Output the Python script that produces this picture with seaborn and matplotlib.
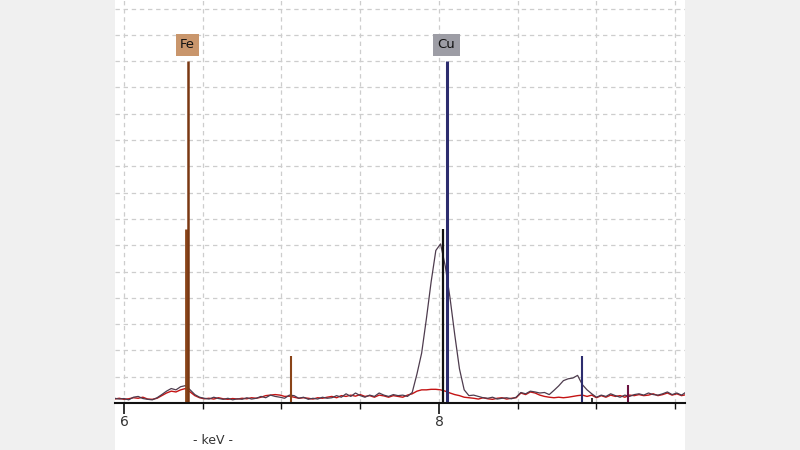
import numpy as np
import pandas as pd
import matplotlib
matplotlib.use("Agg")
import matplotlib.pyplot as plt
import seaborn as sns

# ---- data ----
energy_kev = [round(5.94 + 0.03 * i, 2) for i in range(122)]

spectrum_a = [  # dark trace
    0.18, 0.15, 0.17, 0.12, 0.22, 0.25, 0.17, 0.14, 0.12, 0.20,
    0.32, 0.45, 0.55, 0.50, 0.62, 0.66, 0.50, 0.32, 0.22, 0.18,
    0.15, 0.22, 0.17, 0.14, 0.18, 0.12, 0.16, 0.14, 0.20, 0.15,
    0.18, 0.25, 0.20, 0.30, 0.25, 0.22, 0.18, 0.30, 0.28, 0.18,
    0.22, 0.14, 0.18, 0.15, 0.22, 0.18, 0.20, 0.28, 0.22, 0.35,
    0.25, 0.38, 0.28, 0.22, 0.30, 0.25, 0.38, 0.30, 0.25, 0.32,
    0.28, 0.30, 0.25, 0.40, 1.10, 1.90, 3.20, 4.60, 5.80, 6.05,
    5.20, 4.00, 2.60, 1.30, 0.50, 0.28, 0.30, 0.25, 0.20, 0.18,
    0.22, 0.15, 0.18, 0.20, 0.16, 0.22, 0.40, 0.35, 0.45, 0.42,
    0.38, 0.40, 0.32, 0.48, 0.65, 0.85, 0.92, 0.95, 1.05, 0.70,
    0.50, 0.35, 0.22, 0.30, 0.25, 0.35, 0.28, 0.22, 0.30, 0.25,
    0.32, 0.35, 0.30, 0.38, 0.32, 0.30, 0.35, 0.42, 0.32, 0.38,
    0.30, 0.42,
]

spectrum_b = [  # red trace
    0.15, 0.18, 0.14, 0.16, 0.20, 0.18, 0.22, 0.15, 0.14, 0.18,
    0.28, 0.38, 0.45, 0.42, 0.50, 0.55, 0.42, 0.28, 0.20, 0.16,
    0.18, 0.15, 0.20, 0.16, 0.14, 0.17, 0.15, 0.18, 0.16, 0.20,
    0.18, 0.22, 0.28, 0.30, 0.32, 0.30, 0.25, 0.26, 0.22, 0.18,
    0.20, 0.18, 0.15, 0.20, 0.18, 0.22, 0.25, 0.20, 0.28, 0.25,
    0.30, 0.26, 0.32, 0.25, 0.28, 0.22, 0.30, 0.27, 0.22, 0.28,
    0.25, 0.22, 0.30, 0.35, 0.45, 0.50, 0.50, 0.52, 0.52, 0.50,
    0.45, 0.38, 0.32, 0.28, 0.22, 0.20, 0.18, 0.15, 0.20, 0.16,
    0.14, 0.18, 0.20, 0.15, 0.18, 0.20, 0.38, 0.32, 0.42, 0.38,
    0.30, 0.25, 0.22, 0.20, 0.22, 0.20, 0.22, 0.25, 0.28, 0.30,
    0.25, 0.30, 0.20, 0.28, 0.22, 0.30, 0.25, 0.28, 0.22, 0.30,
    0.28, 0.32, 0.28, 0.30, 0.35, 0.28, 0.32, 0.38, 0.30, 0.35,
    0.28, 0.32,
]

line_energy = [6.391, 6.404, 7.058, 8.028, 8.048, 8.905, 8.970, 9.198]
line_height = [6.6, 13.0, 1.8, 6.6, 13.0, 1.8, 0.2, 0.68]
line_color = ["#8a4418", "#7a3812", "#8a4418", "#111111", "#2c2c6e",
              "#2c2c6e", "#111111", "#6a1240"]
line_width = [2.0, 1.8, 1.5, 1.6, 2.2, 1.5, 1.2, 1.5]

element_labels = ["Fe", "Cu"]
element_label_kev = [6.404, 8.048]
element_label_color = ["#c9966c", "#9d9da5"]

major_ticks = [6, 8]
minor_ticks = [6.5, 7, 7.5, 8.5, 9, 9.5]
tick_labels = ["6", "8"]

# ---- plot ----
sns.set_style("white")
plt.rcParams["font.family"] = ["DejaVu Sans"]

fig = plt.figure(figsize=(8, 4.5), dpi=100, facecolor="#f0f0f0")
# white panel behind plot
panel = plt.Rectangle((115 / 800, 0), 570 / 800, 1, transform=fig.transFigure,
                      facecolor="white", edgecolor="none", zorder=-10)
fig.add_artist(panel)
ax = fig.add_axes([115 / 800, 1 - 403 / 450, 570 / 800, 403 / 450])
ax.set_zorder(1)
ax.patch.set_visible(False)

ax.set_xlim(5.943, 9.562)
ax.set_ylim(0, 403 / 26.3)

# grid
for yv in range(1, 16):
    ax.axhline(yv, color="#cdcdcd", lw=0.9, ls=(0, (3.5, 3)), zorder=1)
for xv in major_ticks + minor_ticks:
    ax.axvline(xv, color="#cdcdcd", lw=0.9, ls=(0, (3.5, 3)), zorder=1)

df = pd.DataFrame({"keV": energy_kev, "a": spectrum_a, "b": spectrum_b})
sns.lineplot(data=df, x="keV", y="b", ax=ax, color="#c41414", lw=1.0, zorder=3)
sns.lineplot(data=df, x="keV", y="a", ax=ax, color="#4e3c4e", lw=0.9, zorder=3)

ax.vlines(line_energy, 0, line_height, colors=line_color,
          linewidths=line_width, zorder=4)

for lab, xe, fc in zip(element_labels, element_label_kev, element_label_color):
    ax.text(xe, 13.62, lab, ha="center", va="center", fontsize=9.5, color="#111111",
            bbox=dict(boxstyle="square,pad=0.32", facecolor=fc, edgecolor="none"),
            zorder=5)

# axes styling
for s in ["left", "right", "top"]:
    ax.spines[s].set_visible(False)
ax.spines["bottom"].set_color("#111111")
ax.spines["bottom"].set_linewidth(1.5)
ax.spines["bottom"].set_zorder(6)
ax.set_yticks([])
ax.set_xticks(major_ticks)
ax.set_xticklabels(tick_labels)
ax.set_xticks(minor_ticks, minor=True)
ax.tick_params(axis="x", which="major", bottom=True, direction="out", length=8,
               width=1.2, color="#111111", labelsize=10, labelcolor="#333333", pad=1)
ax.tick_params(axis="x", which="minor", bottom=True, direction="out", length=4,
               width=1.0, color="#111111")
ax.set_xlabel("")
ax.set_ylabel("")

fig.text(213 / 800, 1 - 440 / 450, "- keV -", ha="center", va="center",
         fontsize=9, color="#333333")

fig.savefig("out.png", dpi=100, facecolor=fig.get_facecolor())
